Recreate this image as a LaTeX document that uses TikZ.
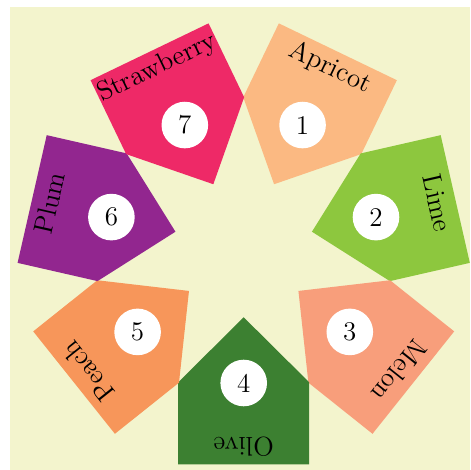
\documentclass[tikz,border=0pt]{standalone}
\usepackage{tikz}
\definecolor{bgc}{RGB}{243,244,205}
\definecolor{cApricot}{HTML}{FBB982}
\definecolor{cLime}{HTML}{8DC73E}
\definecolor{cMelon}{HTML}{F89E7B}
\definecolor{cOlive}{HTML}{3C8031}
\definecolor{cPeach}{HTML}{F7965A}
\definecolor{cPlum}{HTML}{92268F}
\definecolor{cStraw}{HTML}{EE2967}
\tikzset{
  numcirc/.style={circle,fill=white,minimum size=23.3pt,inner sep=0pt,font=\fontsize{13.5}{16}\selectfont},
  fruitlabel/.style={inner sep=0pt,anchor=center,font=\fontsize{13.5}{16}\selectfont},
}
\begin{document}
\begin{tikzpicture}[x=0.5pt,y=0.5pt]
\useasboundingbox (-243.7,247.3) rectangle (226.3,-222.7);
\fill[bgc] (-233.7,240.3) rectangle (226.3,-222.7);
\foreach \k/\name/\col in {1/Apricot/cApricot,2/Lime/cLime,3/Melon/cMelon,4/Olive/cOlive,5/Peach/cPeach,6/Plum/cPlum,7/Strawberry/cStraw}{
  \pgfmathsetmacro\ang{64.2857-(\k-1)*51.4286}
  \begin{scope}[rotate=\ang-90]
    \fill[\col] (0,70) -- (65.5,135) -- (65.5,217) -- (-65.5,217) -- (-65.5,135) -- cycle;
  \end{scope}
  \node[numcirc] (n\k) at (\ang:135.7) {\k};
  \node[fruitlabel,rotate=\ang-90] (l\k) at (\ang:199) {\name};
}
\end{tikzpicture}
\end{document}
